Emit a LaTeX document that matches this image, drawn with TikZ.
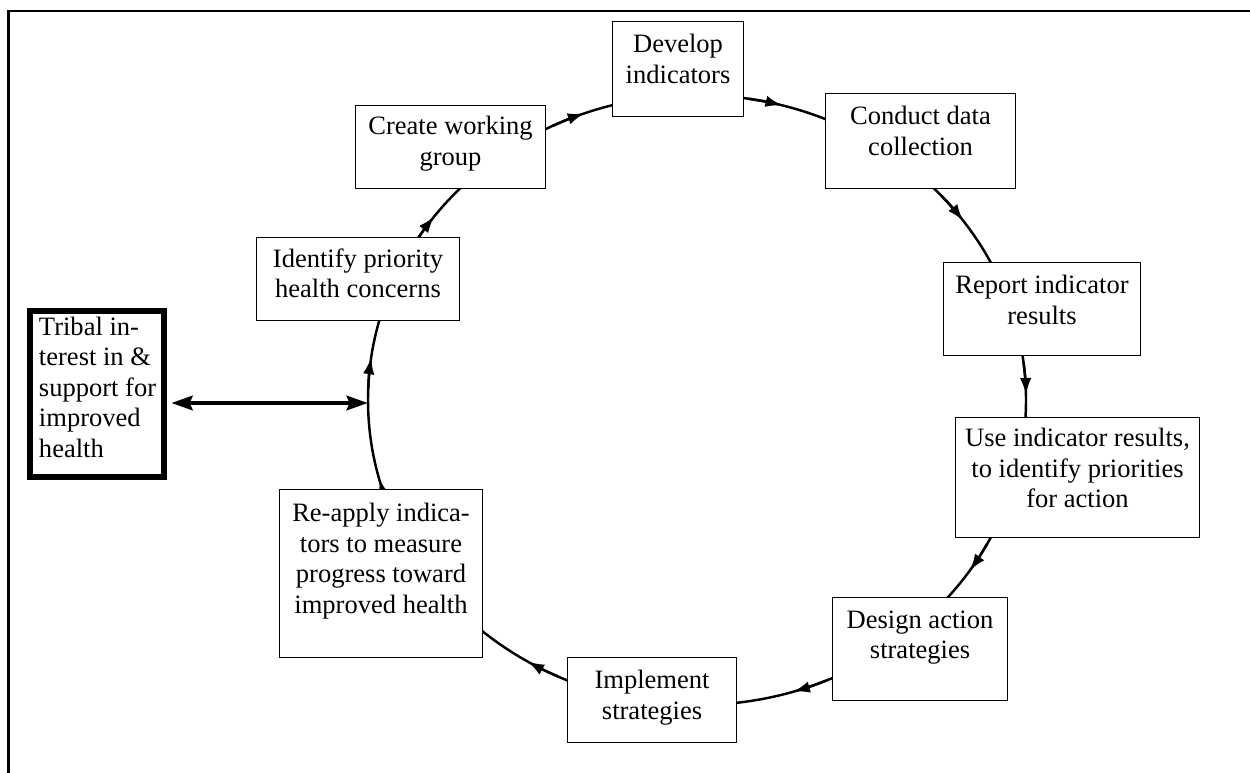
\documentclass[tikz,border=0pt]{standalone}
\usepackage{fontspec}
\setmainfont{Liberation Serif}
\usetikzlibrary{arrows.meta,calc}
\newlength\pxl
\setlength\pxl{0.02cm}
\newcommand\boxfont{\fontsize{15.1pt}{17.36pt}\selectfont}
\newcommand\ctext[4]{\parbox[c][#2\pxl][t]{#1\pxl}{\centering\vspace*{#3\pxl}#4}}
\begin{document}
\begin{tikzpicture}[x=0.02cm,y=-0.02cm,
  box/.style={draw, line width=0.6pt, fill=white, inner sep=0pt, anchor=north west, font=\boxfont},
  tribal/.style={draw, line width=3.2pt, fill=white, inner sep=0pt, font=\boxfont},
  cyc/.style={line width=1.4pt},
  tip/.style={cyc, -{Latex[length=9.5pt,width=6.5pt]}},
  dbl/.style={line width=2.8pt, {Stealth[length=12pt,width=8pt,inset=1.5pt]}-{Stealth[length=12pt,width=8pt,inset=1.5pt]}},
  frame/.style={line width=1.5pt}]
\useasboundingbox (0,0) rectangle (1250,773);
\coordinate (C) at (697,400);
\draw[frame] (1250,11) -- (8.5,11) -- (8.5,773);
\draw[cyc] (C) ellipse [x radius=329, y radius=305];
\foreach \t in {250,285,324,359,34,73,121,165,188,217}
  \draw[tip] ($(C)+(\t-6:329 and 305)$) arc[start angle=\t-6, end angle=\t, x radius=329, y radius=305];
\node[box] (dev) at (612,21) {\ctext{131}{95}{13}{Develop\\indicators}};
\node[box] (col) at (825,93) {\ctext{190}{95}{13}{Conduct data\\collection}};
\node[box] (rep) at (943,262) {\ctext{197}{93}{13}{Report indicator\\results}};
\node[box] (use) at (955,417) {\ctext{244}{120}{11}{Use indicator results,\\to identify priorities\\for action}};
\node[box] (des) at (832,597) {\ctext{175}{103}{13}{Design action\\strategies}};
\node[box] (imp) at (567,657) {\ctext{169}{85}{13}{Implement\\strategies}};
\node[box] (rea) at (279,489) {\ctext{203}{168}{14}{Re-apply indica-\\tors to measure\\progress toward\\improved health}};
\node[box] (ide) at (256,237) {\ctext{203}{83}{11}{Identify priority\\health concerns}};
\node[box] (cre) at (355,105) {\ctext{190}{83}{11}{Create working\\group}};
\node[tribal] (tri) at (97,394) {\parbox[c][166\pxl][t]{134\pxl}{\raggedright\leftskip=9\pxl\vspace*{6\pxl}Tribal in-\\terest in \&\\support for\\improved\\health}};
\coordinate (dpt) at (368,403);
\draw[dbl, shorten <=2.5pt] (tri.east |- dpt) -- (dpt);
\end{tikzpicture}
\end{document}
